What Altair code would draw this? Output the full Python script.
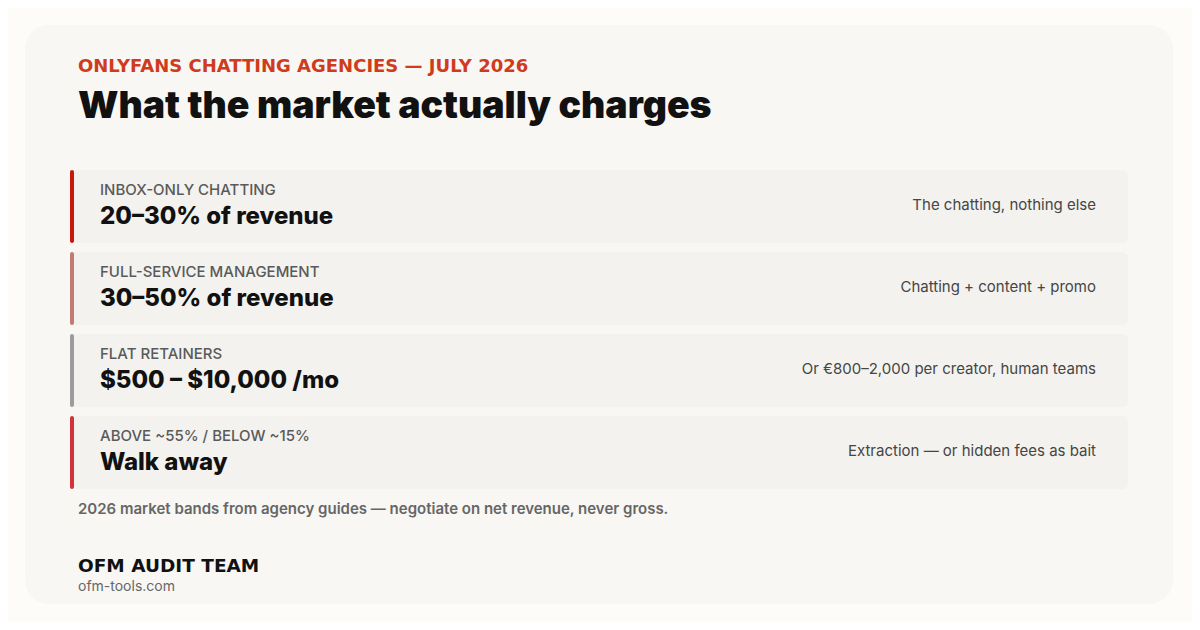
import altair as alt
import pandas as pd

# ---- content ----
kicker = ["ONLYFANS CHATTING AGENCIES — JULY 2026"]
title = ["What the market actually charges"]
categories = ["INBOX-ONLY CHATTING", "FULL-SERVICE MANAGEMENT", "FLAT RETAINERS", "ABOVE ~55% / BELOW ~15%"]
values = ["20–30% of revenue", "30–50% of revenue", "$500 – $10,000 /mo", "Walk away"]
notes = ["The chatting, nothing else", "Chatting + content + promo",
         "Or €800–2,000 per creator, human teams", "Extraction — or hidden fees as bait"]
footnote = ["2026 market bands from agency guides — negotiate on net revenue, never gross."]
byline = ["OFM AUDIT TEAM"]
site = ["ofm-tools.com"]

# ---- styles ----
accent_colors = ["#c8170d", "#c47b73", "#9c9c9c", "#d0343a"]
PAGE = "#fdfcf9"
CARD = "#f8f7f4"
ROWBG = "#f3f2ef"
FONT = "Inter"

rows = pd.DataFrame({"category": categories, "value": values, "note": notes})
one = pd.DataFrame({"k": [0]})

yscale = alt.Scale(domain=categories, range=[162, 481], paddingInner=9 / 82, paddingOuter=0)


def ybar(pos=None):
    if pos is None:
        return alt.Y("category:N", scale=yscale, axis=None)
    return alt.Y("category:N", scale=yscale, axis=None, bandPosition=pos)


def label(txt, x, y, font=FONT, **kw):
    return alt.Chart(pd.DataFrame({"t": txt})).mark_text(
        align="left", baseline="alphabetic", font=font, **kw
    ).encode(x=alt.value(x), y=alt.value(y), text="t:N")


card = alt.Chart(one).mark_rect(fill=CARD, cornerRadius=24).encode(
    x=alt.value(17), x2=alt.value(1165), y=alt.value(17), y2=alt.value(596)
)

row_bg = alt.Chart(rows).mark_rect(fill=ROWBG, cornerRadius=6).encode(
    x=alt.value(62), x2=alt.value(1120), y=ybar()
)

accent = alt.Chart(rows).mark_rect(cornerRadius=2).encode(
    x=alt.value(62), x2=alt.value(66), y=ybar(),
    color=alt.Color("category:N", scale=alt.Scale(domain=categories, range=accent_colors), legend=None),
)

cat_text = alt.Chart(rows).mark_text(
    align="left", baseline="alphabetic", dy=25, font=FONT, fontSize=15, fontWeight=500, color="#5a5a5a"
).encode(x=alt.value(92), y=ybar(0), text="category:N")

val_text = alt.Chart(rows).mark_text(
    align="left", baseline="alphabetic", dy=54, font=FONT, fontSize=24, fontWeight=800, color="#111111"
).encode(x=alt.value(92), y=ybar(0), text="value:N")

note_text = alt.Chart(rows).mark_text(
    align="right", baseline="alphabetic", dy=40, font=FONT, fontSize=15, fontWeight=400, color="#454545"
).encode(x=alt.value(1088), y=ybar(0), text="note:N")

kicker_t = label(kicker, 70, 64, font="DejaVu Sans", fontSize=18, fontWeight="bold", color="#cf3b1c")
title_t = label(title, 70, 110, fontSize=37.4, fontWeight=900, color="#111111")
foot_t = label(footnote, 70, 506, fontSize=15, fontWeight=600, color="#666666")
byline_t = label(byline, 70, 564, font="DejaVu Sans", fontSize=18.5, fontWeight="bold", color="#111111")
site_t = label(site, 70, 583, fontSize=14, fontWeight=400, color="#666666")

chart = alt.layer(
    card, row_bg, accent, cat_text, val_text, note_text,
    kicker_t, title_t, foot_t, byline_t, site_t,
).properties(
    width=1184, height=614, background=PAGE, padding=0, autosize="none"
).configure_view(stroke=None)

chart.save("out.html", embed_options={"renderer": "svg", "actions": False})
